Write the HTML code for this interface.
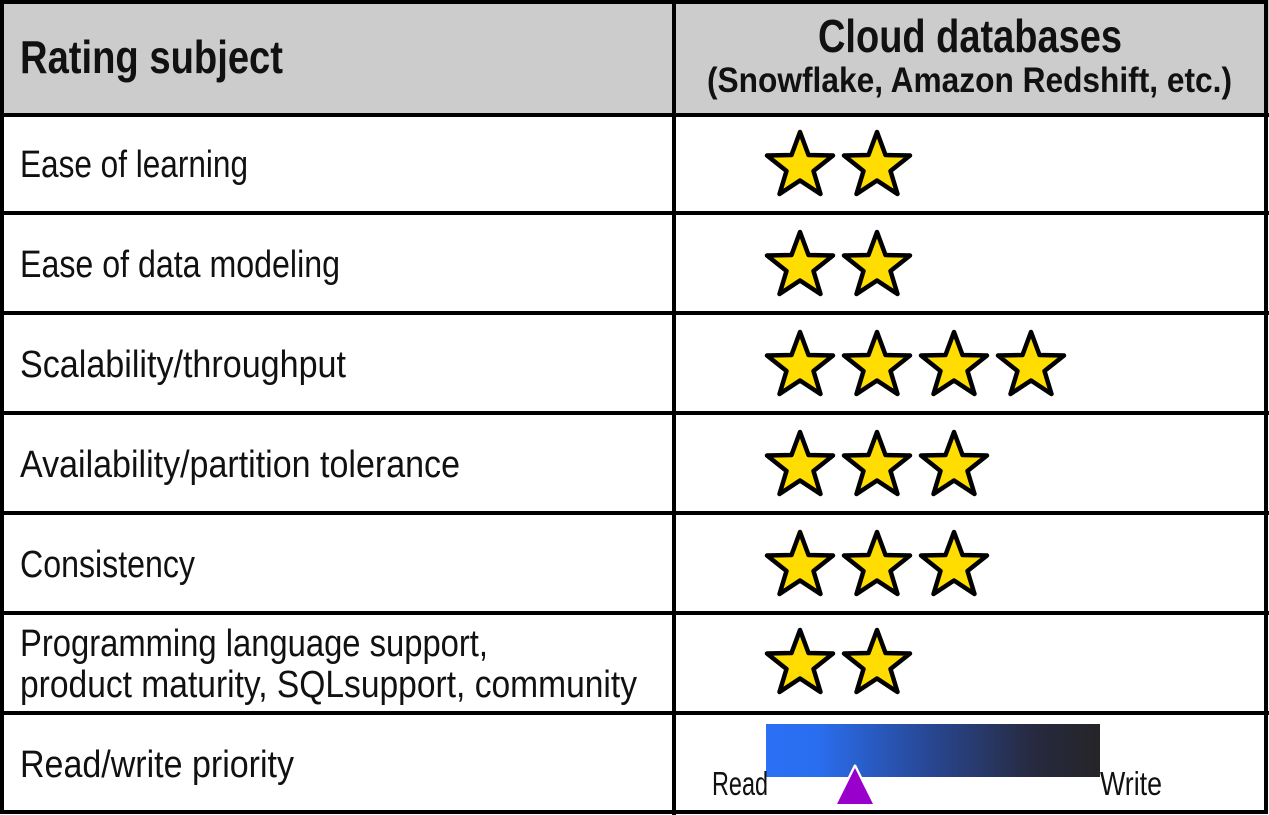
<!DOCTYPE html>
<html><head><meta charset="utf-8"><style>
html,body{margin:0;padding:0;background:#fff;}
svg{display:block;}
text{font-family:"Liberation Sans Narrow","Liberation Sans",sans-serif;fill:#111;}
</style></head><body>
<svg width="1269" height="815" viewBox="0 0 1269 815" xmlns="http://www.w3.org/2000/svg">
<defs>
<linearGradient id="g" x1="0" x2="1" y1="0" y2="0">
<stop offset="0" stop-color="#2a6ff5"/>
<stop offset="0.15" stop-color="#2a6ef0"/>
<stop offset="0.5" stop-color="#284690"/>
<stop offset="0.8" stop-color="#272a40"/>
<stop offset="1" stop-color="#252428"/>
</linearGradient>
<polygon id="s" points="0,-34 8.5,-11 33,-10.5 13.5,5 20.5,28 0,14.5 -20.5,28 -13.5,5 -33,-10.5 -8.5,-11" fill="#ffdd00" stroke="#000" stroke-width="4.5" stroke-linejoin="round"/>
</defs>
<rect x="0" y="0" width="1269" height="115" fill="#cccccc"/>
<g stroke="#000" stroke-width="4" fill="none">
<rect x="2" y="2" width="1264" height="810"/>
<line x1="674" y1="0" x2="674" y2="815"/>
<line x1="0" y1="115" x2="1269" y2="115"/>
<line x1="0" y1="213" x2="1269" y2="213"/>
<line x1="0" y1="313" x2="1269" y2="313"/>
<line x1="0" y1="413" x2="1269" y2="413"/>
<line x1="0" y1="513" x2="1269" y2="513"/>
<line x1="0" y1="613" x2="1269" y2="613"/>
<line x1="0" y1="713" x2="1269" y2="713"/>
</g>
<text x="20" y="73" font-size="46" font-weight="bold" textLength="263" lengthAdjust="spacingAndGlyphs">Rating subject</text>
<text x="818" y="52" font-size="46" font-weight="bold" textLength="304" lengthAdjust="spacingAndGlyphs">Cloud databases</text>
<text x="707" y="92" font-size="35" font-weight="bold" textLength="525" lengthAdjust="spacingAndGlyphs">(Snowflake, Amazon Redshift, etc.)</text>
<g font-size="38">
<text x="20" y="177" textLength="228" lengthAdjust="spacingAndGlyphs">Ease of learning</text>
<text x="20" y="277" textLength="320" lengthAdjust="spacingAndGlyphs">Ease of data modeling</text>
<text x="20" y="377" textLength="326" lengthAdjust="spacingAndGlyphs">Scalability/throughput</text>
<text x="20" y="477" textLength="440" lengthAdjust="spacingAndGlyphs">Availability/partition tolerance</text>
<text x="20" y="577" textLength="175" lengthAdjust="spacingAndGlyphs">Consistency</text>
<text x="20" y="656" textLength="468" lengthAdjust="spacingAndGlyphs">Programming language support,</text>
<text x="20" y="697" textLength="617" lengthAdjust="spacingAndGlyphs">product maturity, SQLsupport, community</text>
<text x="20" y="777" textLength="274" lengthAdjust="spacingAndGlyphs">Read/write priority</text>
</g>
<use href="#s" x="800" y="166"/><use href="#s" x="877" y="166"/>
<use href="#s" x="800" y="266"/><use href="#s" x="877" y="266"/>
<use href="#s" x="800" y="366"/><use href="#s" x="877" y="366"/><use href="#s" x="954" y="366"/><use href="#s" x="1031" y="366"/>
<use href="#s" x="800" y="466"/><use href="#s" x="877" y="466"/><use href="#s" x="954" y="466"/>
<use href="#s" x="800" y="566"/><use href="#s" x="877" y="566"/><use href="#s" x="954" y="566"/>
<use href="#s" x="800" y="664"/><use href="#s" x="877" y="664"/>
<rect x="766" y="724" width="334" height="53" fill="url(#g)"/>
<polygon points="855,766 874,805 836,805" fill="#9900cc" stroke="#fff" stroke-width="3" stroke-linejoin="round"/>
<polygon points="855,768 873,804 837,804" fill="#9900cc"/>
<text x="712" y="795" font-size="33" textLength="56" lengthAdjust="spacingAndGlyphs">Read</text>
<text x="1100" y="795" font-size="33" textLength="62" lengthAdjust="spacingAndGlyphs">Write</text>
</svg>
</body></html>
